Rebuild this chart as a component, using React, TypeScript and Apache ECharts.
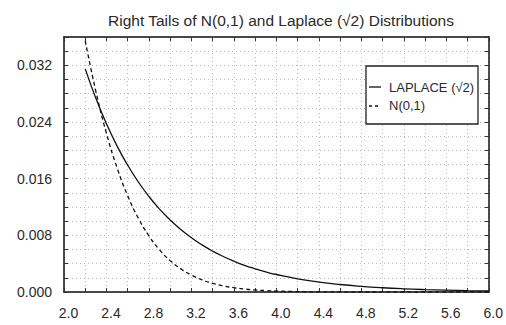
import React, { useEffect, useRef } from "react";
import * as echarts from "echarts";

const chartTitle = "Right Tails of N(0,1) and Laplace (√2) Distributions";
const seriesNames = ["LAPLACE (√2)", "N(0,1)"];
const xValues = [
  2.2, 2.3, 2.4, 2.5, 2.6, 2.7, 2.8, 2.9, 3.0, 3.1, 3.2, 3.3, 3.4, 3.5, 3.6, 3.7, 3.8, 3.9, 4.0,
  4.2, 4.4, 4.6, 4.8, 5.0, 5.2, 5.4, 5.6, 5.8, 6.0,
];
const laplaceValues = [
  0.0315, 0.02734, 0.02374, 0.0206, 0.01789, 0.01553, 0.01348, 0.0117, 0.01016, 0.00882, 0.00766,
  0.00665, 0.00577, 0.00501, 0.00435, 0.00377, 0.00328, 0.00284, 0.00247, 0.00186, 0.0014, 0.00106,
  0.0008, 0.0006, 0.00045, 0.00034, 0.00026, 0.00019, 0.00015,
];
const normalValues = [
  0.03547, 0.02833, 0.02239, 0.01753, 0.01358, 0.01042, 0.00792, 0.00595, 0.00443, 0.00327, 0.00238,
  0.00172, 0.00123, 0.00087, 0.00061, 0.00042, 0.00029, 0.0002, 0.00013, 0.00006, 0.00002, 0.00001,
  0.0, 0.0, 0.0, 0.0, 0.0, 0.0, 0.0,
];

const FONT = "'Liberation Sans', Arial, sans-serif";
const TEXT = "#2a2a2a";
const GRIDC = "#b8b8b8";

export default function App() {
  const ref = useRef<HTMLDivElement>(null);
  useEffect(() => {
    const chart = echarts.init(ref.current!, null, { renderer: "svg" });
    const gridLine = { lineStyle: { color: GRIDC, type: [1, 3] as any, width: 1 } };
    const axisLine = { show: true, onZero: false, lineStyle: { color: "#111", width: 1.5 } };
    const common = {
      type: "value" as const,
      axisLine,
      axisTick: { show: true, inside: true, length: 4, lineStyle: { color: "#333" } },
      minorTick: { show: true, splitNumber: 2, length: 4, lineStyle: { color: "#333" } },
    };
    chart.setOption({
      animation: false,
      textStyle: { fontFamily: FONT },
      title: {
        text: chartTitle,
        left: 276,
        top: 7,
        textAlign: "center",
        textStyle: { fontSize: 15.5, fontWeight: "normal", color: TEXT, fontFamily: FONT },
      },
      grid: { left: 64, right: 13, top: 37, bottom: 33, containLabel: false },
      xAxis: [
        {
          ...common,
          position: "bottom",
          min: 2,
          max: 6,
          interval: 0.4,
          axisLabel: {
            color: TEXT,
            fontSize: 14,
            margin: 14,
            padding: [0, 0, 0, 9],
            fontFamily: FONT,
            formatter: (v: number) => v.toFixed(1),
          },
          splitLine: { show: true, ...gridLine },
          minorSplitLine: { show: true, ...gridLine },
        },
        {
          ...common,
          position: "top",
          min: 2,
          max: 6,
          interval: 0.4,
          axisLabel: { show: false },
          splitLine: { show: false },
        },
      ],
      yAxis: [
        {
          ...common,
          position: "left",
          min: 0,
          max: 0.036,
          interval: 0.004,
          axisLabel: {
            color: TEXT,
            fontSize: 14,
            margin: 12,
            fontFamily: FONT,
            formatter: (v: number) => {
              const k = v / 0.008;
              return Math.abs(k - Math.round(k)) < 1e-6 && v < 0.0355 ? v.toFixed(3) : "";
            },
          },
          splitLine: { show: true, ...gridLine },
          minorSplitLine: { show: true, ...gridLine },
        },
        {
          ...common,
          position: "right",
          min: 0,
          max: 0.036,
          interval: 0.004,
          axisLabel: { show: false },
          splitLine: { show: false },
        },
      ],
      series: [
        {
          name: seriesNames[0],
          type: "line",
          smooth: true,
          symbol: "none",
          data: xValues.map((x, i) => [x, laplaceValues[i]]),
          lineStyle: { color: "#111", width: 1.3 },
          z: 3,
        },
        {
          name: seriesNames[1],
          type: "line",
          smooth: true,
          symbol: "none",
          data: xValues.map((x, i) => [x, normalValues[i]]),
          lineStyle: { color: "#111", width: 1.3, type: [4, 3] as any },
          z: 3,
        },
      ],
      graphic: [
        {
          type: "rect",
          shape: { x: 366, y: 66, width: 112, height: 58 },
          style: { fill: "#fff", stroke: "#222", lineWidth: 1.3 },
          z: 10,
        },
        {
          type: "line",
          shape: { x1: 369, y1: 87, x2: 381, y2: 87 },
          style: { stroke: "#111", lineWidth: 1.3 },
          z: 11,
        },
        {
          type: "line",
          shape: { x1: 369, y1: 106, x2: 381, y2: 106 },
          style: { stroke: "#111", lineWidth: 1.3, lineDash: [3, 3] },
          z: 11,
        },
        {
          type: "text",
          x: 389,
          y: 87,
          style: { text: seriesNames[0], fill: TEXT, font: `13px ${FONT}`, textVerticalAlign: "middle" },
          z: 11,
        },
        {
          type: "text",
          x: 389,
          y: 105,
          style: { text: seriesNames[1], fill: TEXT, font: `13px ${FONT}`, textVerticalAlign: "middle" },
          z: 11,
        },
      ],
    });
    return () => chart.dispose();
  }, []);
  return <div ref={ref} style={{ position: "absolute", left: 0, top: 0, width: 506, height: 325 }} />;
}
